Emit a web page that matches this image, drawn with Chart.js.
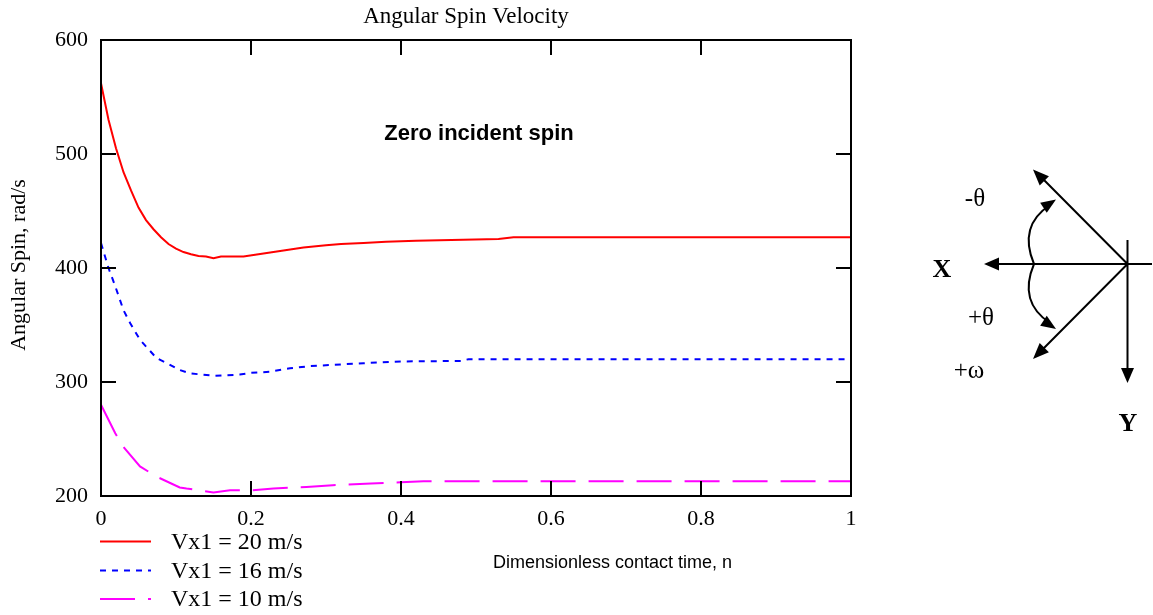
<!DOCTYPE html>
<html>
<head>
<meta charset="utf-8">
<script src="https://cdn.jsdelivr.net/npm/chart.js@4.4.0/dist/chart.umd.min.js"></script>
<style>
html,body{margin:0;padding:0;background:#fff;}
#wrap{width:1153px;height:615px;position:relative;}
</style>
</head>
<body>
<div id="wrap"><canvas id="c" width="1153" height="615"></canvas></div>
<script>
// ---- data ----
const xTicks = [0, 0.2, 0.4, 0.6, 0.8, 1];
const yTicks = [200, 300, 400, 500, 600];

const nRed = [0, 0.005, 0.01, 0.02, 0.03, 0.04, 0.05, 0.06, 0.07, 0.08, 0.09, 0.1, 0.11, 0.12, 0.13, 0.14, 0.15, 0.16, 0.19, 0.21, 0.23, 0.25, 0.27, 0.3, 0.32, 0.35, 0.38, 0.42, 0.53, 0.55, 1];
const red  = [562, 546, 530, 505, 484, 468, 453, 442, 434, 427, 421, 417, 414, 412, 410.5, 410, 408.5, 410, 410, 412, 414, 416, 418, 420, 421, 422, 423, 424, 425.5, 427, 427];

const nBlue = [0, 0.01, 0.019, 0.03, 0.039, 0.052, 0.074, 0.088, 0.105, 0.119, 0.152, 0.185, 0.2, 0.225, 0.252, 0.279, 0.309, 0.35, 0.4, 0.48, 0.49, 1];
const blue  = [422, 400, 384, 363, 351.5, 337, 321, 316.5, 310.5, 307.5, 305.5, 306.5, 308, 309, 312, 314, 315, 316.5, 318, 318.5, 320, 320];

const nMag = [0, 0.019, 0.03, 0.052, 0.074, 0.105, 0.114, 0.132, 0.15, 0.172, 0.2, 0.23, 0.274, 0.309, 0.36, 0.4, 0.43, 1];
const mag  = [280, 255, 243, 226, 217, 207.5, 206.5, 205, 203, 205, 205, 206.5, 208, 209.5, 211, 212, 213, 213];

const seriesLabels = ['Vx1 = 20 m/s', 'Vx1 = 16 m/s', 'Vx1 = 10 m/s'];

const titleText = 'Angular Spin Velocity';
const yTitle = 'Angular Spin, rad/s';
const xTitle = 'Dimensionless contact time, n';
const noteText = 'Zero incident spin';

function pts(xs, ys){ return xs.map((x,i)=>({x:x, y:ys[i]})); }

const SERIF = '"Liberation Serif", "Times New Roman", serif';
const SANS = '"Liberation Sans", Arial, sans-serif';

function arrowHead(ctx, tx, ty, ang, len, hw){
  ctx.beginPath();
  ctx.moveTo(tx, ty);
  ctx.lineTo(tx - len*Math.cos(ang) + hw*Math.sin(ang), ty - len*Math.sin(ang) - hw*Math.cos(ang));
  ctx.lineTo(tx - len*Math.cos(ang) - hw*Math.sin(ang), ty - len*Math.sin(ang) + hw*Math.cos(ang));
  ctx.closePath();
  ctx.fill();
}

const decor = {
  id: 'decor',
  afterDraw(chart){
    const ctx = chart.ctx;
    const a = chart.chartArea;
    const xs = chart.scales.x, ys = chart.scales.y;
    ctx.save();
    // box
    ctx.strokeStyle = '#000';
    ctx.lineWidth = 2;
    ctx.setLineDash([]);
    ctx.strokeRect(a.left, a.top, a.right - a.left, a.bottom - a.top);
    // inward ticks
    const tl = 15;
    ctx.beginPath();
    xTicks.forEach(v=>{
      const px = xs.getPixelForValue(v);
      ctx.moveTo(px, a.bottom); ctx.lineTo(px, a.bottom - tl);
      ctx.moveTo(px, a.top); ctx.lineTo(px, a.top + tl);
    });
    yTicks.forEach(v=>{
      const py = ys.getPixelForValue(v);
      ctx.moveTo(a.left, py); ctx.lineTo(a.left + tl, py);
      ctx.moveTo(a.right, py); ctx.lineTo(a.right - tl, py);
    });
    ctx.stroke();

    ctx.fillStyle = '#000';
    // title
    ctx.font = '23px ' + SERIF;
    ctx.textAlign = 'center'; ctx.textBaseline = 'middle';
    ctx.fillText(titleText, 466, 17);
    // y title
    ctx.save();
    ctx.translate(19, 265);
    ctx.rotate(-Math.PI/2);
    ctx.font = '22px ' + SERIF;
    ctx.fillText(yTitle, 0, 0);
    ctx.restore();
    // x title
    ctx.font = '18px ' + SANS;
    ctx.textAlign = 'left';
    ctx.fillText(xTitle, 493, 563);
    // annotation
    ctx.font = 'bold 22px ' + SANS;
    ctx.textAlign = 'center';
    ctx.fillText(noteText, 479, 134);

    // legend
    const legY = [541.5, 570.5, 599];
    chart.data.datasets.forEach((ds, i)=>{
      ctx.strokeStyle = ds.borderColor;
      ctx.lineWidth = 2;
      ctx.setLineDash(ds.borderDash || []);
      ctx.beginPath();
      ctx.moveTo(100, legY[i]); ctx.lineTo(151, legY[i]);
      ctx.stroke();
      ctx.setLineDash([]);
      ctx.fillStyle = '#000';
      ctx.font = '24px ' + SERIF;
      ctx.textAlign = 'left';
      ctx.fillText(ds.label, 171, legY[i] + 1);
    });

    // diagram
    const cx = 1127.5, cy = 264;
    ctx.strokeStyle = '#000'; ctx.fillStyle = '#000';
    ctx.lineWidth = 2;
    ctx.setLineDash([]);
    ctx.beginPath();
    ctx.moveTo(cx, 240); ctx.lineTo(cx, 370);
    ctx.moveTo(1152, cy); ctx.lineTo(998, cy);
    ctx.moveTo(cx, cy); ctx.lineTo(1043, 179);
    ctx.moveTo(cx, cy); ctx.lineTo(1043, 349);
    ctx.stroke();
    arrowHead(ctx, cx, 383, Math.PI/2, 15, 6.5);
    arrowHead(ctx, 984, cy, Math.PI, 15, 6.5);
    const ang1 = Math.atan2(169.5 - cy, 1033 - cx);
    arrowHead(ctx, 1033, 169.5, ang1, 16, 6.5);
    const ang2 = Math.atan2(359 - cy, 1033 - cx);
    arrowHead(ctx, 1033, 359, ang2, 16, 6.5);
    // arcs
    ctx.beginPath();
    ctx.moveTo(1034, 264);
    ctx.quadraticCurveTo(1018, 226, 1050, 205);
    ctx.moveTo(1034, 264);
    ctx.quadraticCurveTo(1018, 302, 1050, 323);
    ctx.stroke();
    arrowHead(ctx, 1056, 199.5, Math.atan2(205-226, 1050-1018), 15, 6);
    arrowHead(ctx, 1056, 329, Math.atan2(323-302, 1050-1018), 15, 6);
    // labels
    ctx.textAlign = 'center'; ctx.textBaseline = 'middle';
    ctx.font = '25px ' + SERIF;
    ctx.fillText('-\u03b8', 975, 199);
    ctx.fillText('+\u03b8', 981, 318);
    ctx.fillText('+\u03c9', 969, 371);
    ctx.font = 'bold 26px ' + SERIF;
    ctx.fillText('X', 942, 270);
    ctx.fillText('Y', 1128, 424);
    ctx.restore();
  }
};

new Chart(document.getElementById('c'), {
  type: 'line',
  data: {
    datasets: [
      {label: seriesLabels[0], data: pts(nRed, red), borderColor: '#ff0000', borderWidth: 2, pointRadius: 0, tension: 0, fill: false},
      {label: seriesLabels[1], data: pts(nBlue, blue), borderColor: '#0000ff', borderWidth: 2, borderDash: [6, 6], pointRadius: 0, tension: 0, fill: false},
      {label: seriesLabels[2], data: pts(nMag, mag), borderColor: '#ff00ff', borderWidth: 2, borderDash: [35, 13], pointRadius: 0, tension: 0, fill: false}
    ]
  },
  options: {
    responsive: false,
    animation: false,
    devicePixelRatio: 1,
    layout: {padding: {left: 0, top: 40, right: 302, bottom: 0}},
    plugins: {legend: {display: false}, title: {display: false}, tooltip: {enabled: false}},
    scales: {
      x: {
        type: 'linear', min: 0, max: 1,
        afterFit(s){ s.height = 119; },
        afterBuildTicks(s){ s.ticks = xTicks.map(v=>({value: v})); },
        grid: {display: false, drawTicks: false},
        border: {display: false},
        ticks: {color: '#000', font: {family: SERIF, size: 22}, padding: 10, maxRotation: 0, autoSkip: false,
                callback: v => String(v)}
      },
      y: {
        type: 'linear', min: 200, max: 600,
        afterFit(s){ s.width = 101; },
        afterBuildTicks(s){ s.ticks = yTicks.map(v=>({value: v})); },
        grid: {display: false, drawTicks: false},
        border: {display: false},
        ticks: {color: '#000', font: {family: SERIF, size: 22}, padding: 13, autoSkip: false}
      }
    }
  },
  plugins: [decor]
});
</script>
</body>
</html>
